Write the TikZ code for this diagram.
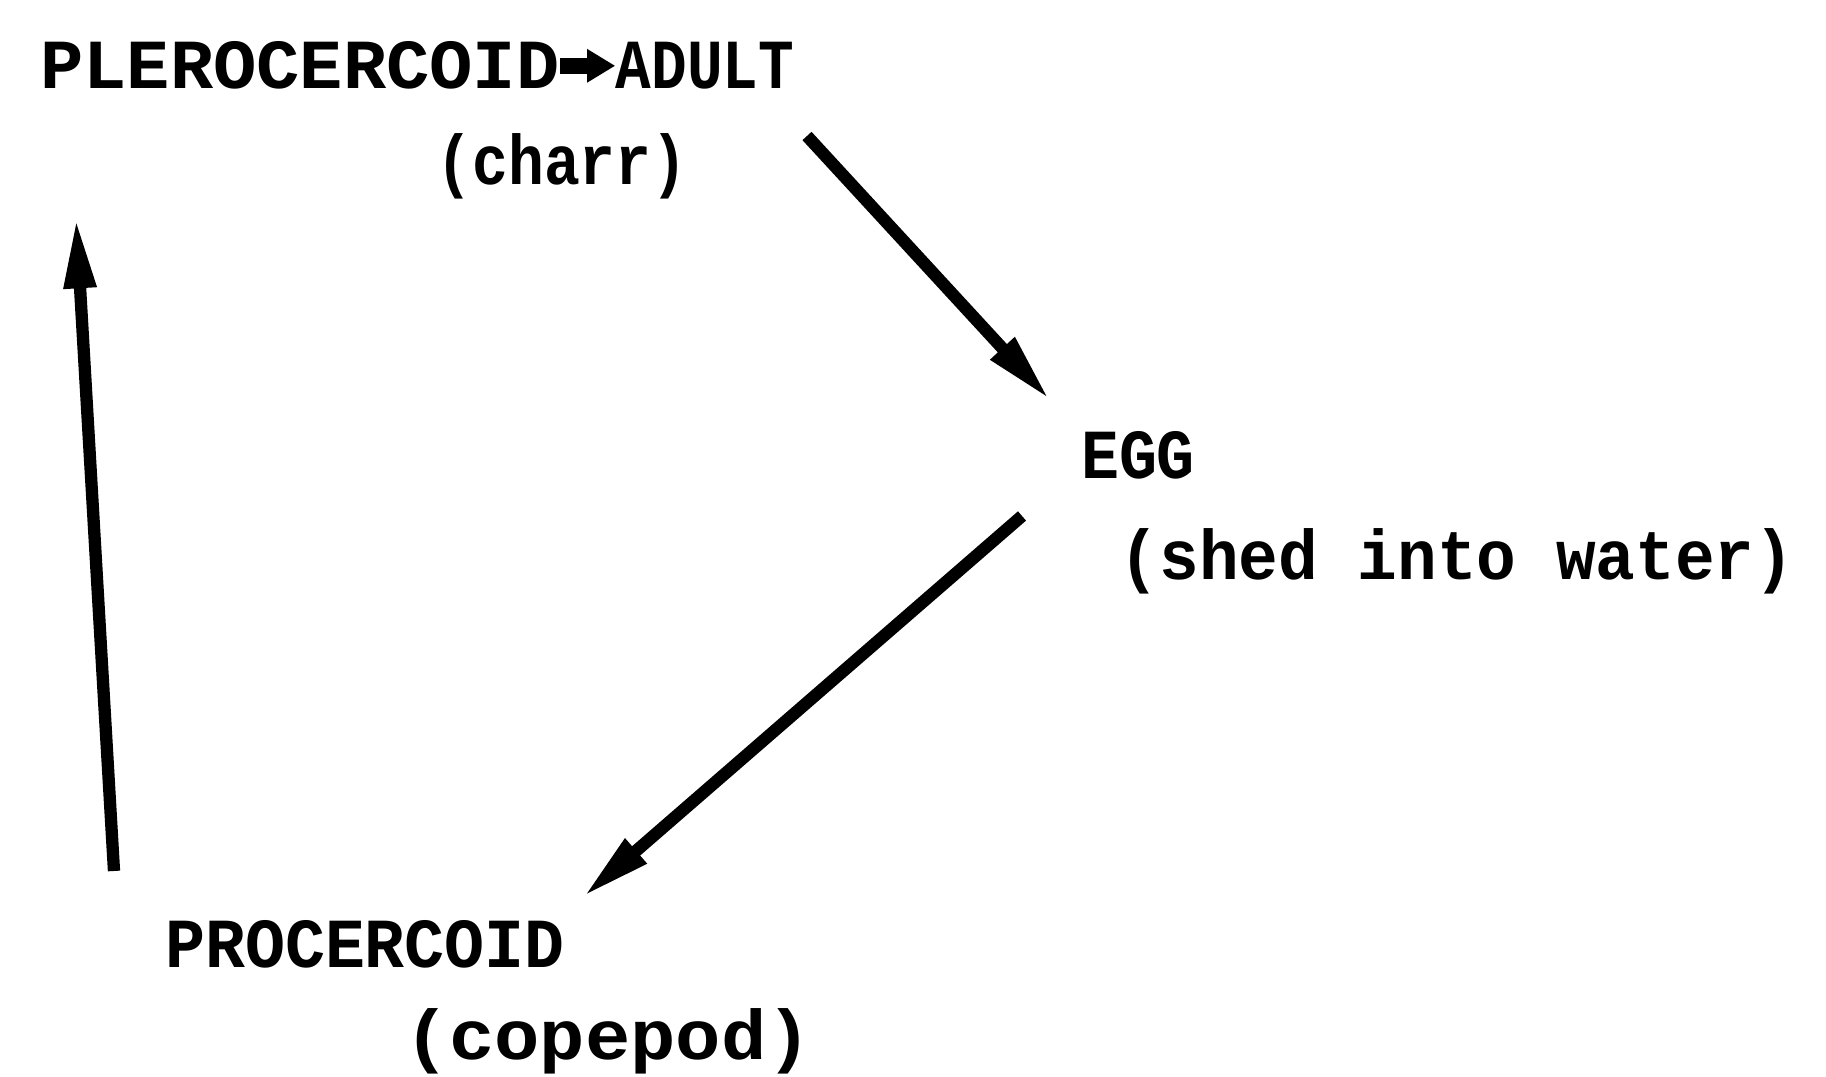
\documentclass[tikz,border=0pt]{standalone}
\usepackage{fontspec}
\newfontfamily\labfont{Liberation Mono}
\usetikzlibrary{arrows.meta}
\tikzset{
  lab/.style={font=\labfont\bfseries\fontsize{20pt}{22pt}\selectfont, inner sep=0pt, anchor=base},
  bigarrow/.style={line width=3.5pt, -{Triangle[length=20pt,width=8.5pt]}},
  smallarrow/.style={line width=4.5pt, -{Triangle[length=8pt,width=9pt]}}
}
\begin{document}
\begin{tikzpicture}[x=0.01cm,y=-0.01cm]
\useasboundingbox[fill=white] (0,0) rectangle (1826,1077);
% labels
\node[lab,xscale=1.025] (pler) at (300,89) {PLEROCERCOID};
\node[lab,xscale=0.845] (adult) at (705,89) {ADULT};
\node[lab,xscale=0.85] (charr) at (562,185) {(charr)};
\node[lab,xscale=0.9] (egg) at (1138,479) {EGG};
\node[lab,xscale=0.94] (shed) at (1457,580) {(shed into water)};
\node[lab,xscale=0.947] (proc) at (365,968) {PROCERCOID};
\node[lab,xscale=1.074] (cope) at (608,1060) {(copepod)};
% arrow end points
\coordinate (a1s) at (807,136);
\coordinate (a1e) at (1050,400);
\coordinate (a2s) at (1022,516);
\coordinate (a2e) at (583,897);
\coordinate (a3s) at (114,871);
\coordinate (a3e) at (76,218);
% connectors
\draw[smallarrow] (pler.east) -- (pler.east -| adult.west);
\draw[bigarrow] (a1s) -- (a1e);
\draw[bigarrow] (a2s) -- (a2e);
\draw[bigarrow] (a3s) -- (a3e);
\end{tikzpicture}
\end{document}
